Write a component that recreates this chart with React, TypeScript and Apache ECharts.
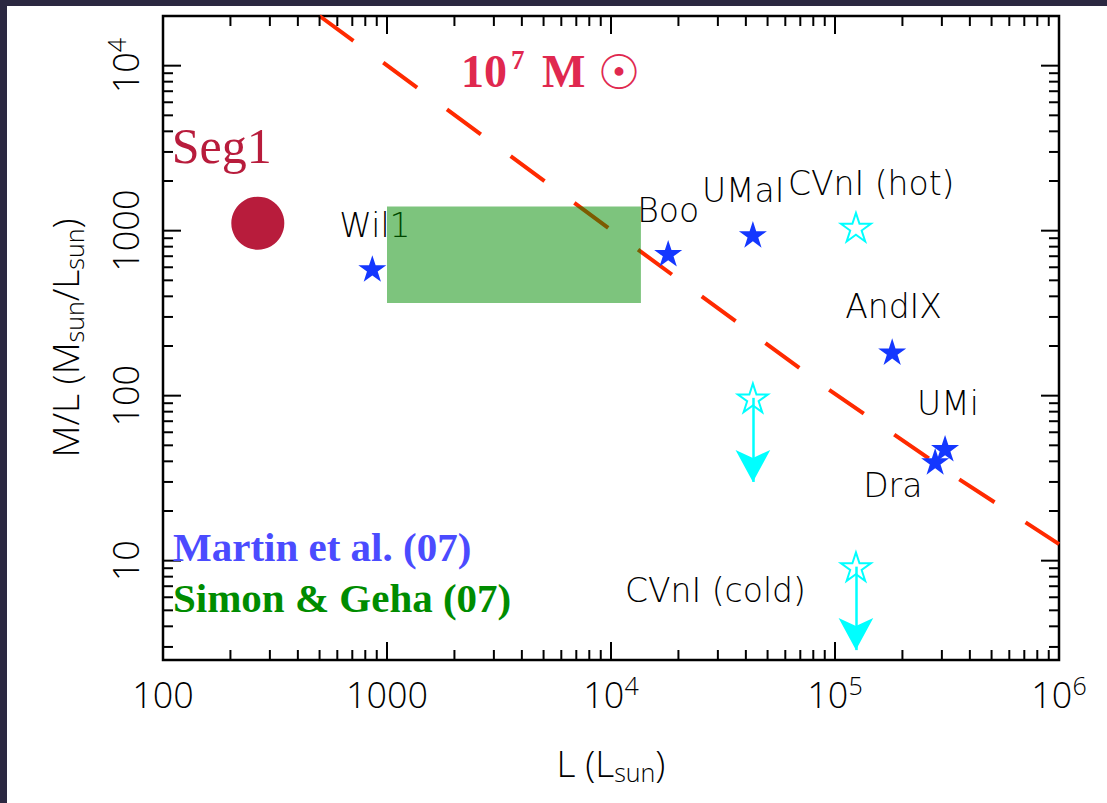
import React, { useEffect, useRef } from 'react';
import * as echarts from 'echarts';

// ---------------- data ----------------
const galaxyNames = ['Wil1', 'Boo', 'UMaI', 'AndIX', 'UMi', 'Dra'];
const galaxyL = [860, 18000, 43000, 180000, 310000, 280000];
const galaxyML = [590, 730, 950, 185, 48, 40];

const limitNames = ['CVnI (hot)', '', 'CVnI (cold)'];
const limitL = [124000, 43000, 124000];
const limitML = [1050, 97, 9.2];
const limitArrowEndML = [0, 30, 2.87]; // 0 = no arrow

const seg1L = [265];
const seg1ML = [1110];

const boxL = [1000, 13600];
const boxML = [365, 1400];

// 10^7 Msun line
const massLineL = [500, 92000, 351000, 1000000];
const massLineML = [20000, 111, 31.7, 12.6];

const xMajorTicks = [100, 1000, 10000, 100000, 1000000];
const xMinorTicks = [
  200, 300, 400, 500, 600, 700, 800, 900,
  2000, 3000, 4000, 5000, 6000, 7000, 8000, 9000,
  20000, 30000, 40000, 50000, 60000, 70000, 80000, 90000,
  200000, 300000, 400000, 500000, 600000, 700000, 800000, 900000,
];
const yMajorTicks = [10, 100, 1000, 10000];
const yMinorTicks = [
  3, 4, 5, 6, 7, 8, 9,
  20, 30, 40, 50, 60, 70, 80, 90,
  200, 300, 400, 500, 600, 700, 800, 900,
  2000, 3000, 4000, 5000, 6000, 7000, 8000, 9000,
];

const X_MIN = 100;
const X_MAX = 1000000;
const Y_MIN = 2.5;
const Y_MAX = 20000;

// ---------------- styling ----------------
const labelOffsets: Record<string, number[]> = {
  'Wil1': [-33, -43],
  'Boo': [-31, -43],
  'UMaI': [-51, -44],
  'AndIX': [-47, -45],
  'UMi': [-28, -45],
  'Dra': [-72, 24],
  'CVnI (hot)': [-68, -44],
  'CVnI (cold)': [-231, 24],
};

const STAR =
  'path://M50,0L61.23,34.55L97.55,34.55L68.17,55.9L79.39,90.45L50,69.1L20.61,90.45L31.83,55.9L2.45,34.55L38.77,34.55Z';

const SANS = '"Open Sans", "Liberation Sans", sans-serif';
const LABEL_FONT = '"DejaVu Sans", sans-serif';
const SERIF = '"Liberation Serif", "DejaVu Serif", serif';

function isPow10(v: number) {
  const l = Math.log10(v);
  return Math.abs(l - Math.round(l)) < 1e-6;
}

function tickLabel(v: number) {
  if (!isPow10(v)) return '';
  const e = Math.round(Math.log10(v));
  if (e <= 3) return `{b|${Math.round(Math.pow(10, e))}}`;
  return `{b|10}{s|${e}}`;
}

const tickRich = {
  b: { fontSize: 36, lineHeight: 44, fontFamily: SANS, fontWeight: 300, color: '#000' },
  s: { fontSize: 25, lineHeight: 17, verticalAlign: 'top', fontFamily: SANS, fontWeight: 300, color: '#000' },
};

const titleRich = {
  t: { fontSize: 37, lineHeight: 44, fontFamily: SANS, fontWeight: 300, color: '#000' },
  s: { fontSize: 25, lineHeight: 4, verticalAlign: 'bottom', fontFamily: SANS, fontWeight: 300, color: '#000' },
};

function tickSeries(values: number[], dir: 'x' | 'y', len: number) {
  return {
    type: 'custom',
    z: 4,
    silent: true,
    clip: false,
    data: values.map((v) => (dir === 'x' ? [v, Y_MIN] : [X_MIN, v])),
    renderItem: (_p: any, api: any) => {
      const st = { stroke: '#000', lineWidth: 2 };
      if (dir === 'x') {
        const v = api.value(0);
        const b = api.coord([v, Y_MIN]);
        const t = api.coord([v, Y_MAX]);
        return {
          type: 'group',
          children: [
            { type: 'line', shape: { x1: b[0], y1: b[1], x2: b[0], y2: b[1] - len }, style: st },
            { type: 'line', shape: { x1: t[0], y1: t[1], x2: t[0], y2: t[1] + len }, style: st },
          ],
        };
      }
      const v = api.value(1);
      const l = api.coord([X_MIN, v]);
      const r = api.coord([X_MAX, v]);
      return {
        type: 'group',
        children: [
          { type: 'line', shape: { x1: l[0], y1: l[1], x2: l[0] + len, y2: l[1] }, style: st },
          { type: 'line', shape: { x1: r[0], y1: r[1], x2: r[0] - len, y2: r[1] }, style: st },
        ],
      };
    },
  };
}

export default function App() {
  const ref = useRef<HTMLDivElement>(null);

  useEffect(() => {
    if (!ref.current) return;
    const chart = echarts.init(ref.current, undefined, { renderer: 'svg' });

    const galaxyData = galaxyNames.map((n, i) => ({
      name: n,
      value: [galaxyL[i], galaxyML[i]],
      label: { offset: labelOffsets[n] },
    }));
    const limitData = limitNames.map((n, i) => ({
      name: n,
      value: [limitL[i], limitML[i]],
      label: { show: n !== '', offset: labelOffsets[n] || [0, 0] },
    }));
    const arrowData = limitNames
      .map((_n, i) => i)
      .filter((i) => limitArrowEndML[i] > 0)
      .map((i) => [{ coord: [limitL[i], limitML[i]] }, { coord: [limitL[i], limitArrowEndML[i]] }]);

    const labelStyle = {
      show: true,
      position: 'inside',
      formatter: '{b}',
      align: 'left',
      verticalAlign: 'middle',
      color: '#000',
      fontSize: 33,
      fontWeight: 200,
      fontFamily: LABEL_FONT,
    };

    const option: any = {
      animation: false,
      backgroundColor: '#ffffff',
      grid: {
        left: 163,
        top: 16,
        width: 896,
        height: 644,
        show: true,
        borderColor: '#000',
        borderWidth: 2.5,
        backgroundColor: 'transparent',
      },
      xAxis: {
        type: 'log',
        logBase: 10,
        min: X_MIN,
        max: X_MAX,
        axisLine: { show: false },
        axisTick: { show: false },
        splitLine: { show: false },
        axisLabel: { margin: 12, formatter: tickLabel, rich: tickRich, color: '#000' },
        name: '{t|L (L}{s|sun}{t|)}',
        nameLocation: 'middle',
        nameGap: 80,
        nameTextStyle: { rich: titleRich },
      },
      yAxis: {
        type: 'log',
        logBase: 10,
        min: Y_MIN,
        max: Y_MAX,
        axisLine: { show: false },
        axisTick: { show: false },
        splitLine: { show: false },
        axisLabel: { rotate: 90, margin: 16, formatter: tickLabel, rich: tickRich, color: '#000' },
        name: '{t|M/L (M}{s|sun}{t|/L}{s|sun}{t|)}',
        nameLocation: 'middle',
        nameGap: 77,
        nameTextStyle: { rich: titleRich },
      },
      graphic: [
        { type: 'rect', shape: { x: 0, y: 0, width: 1107, height: 6 }, style: { fill: '#2b2841' }, z: 100 },
        { type: 'rect', shape: { x: 0, y: 0, width: 7, height: 803 }, style: { fill: '#2b2841' }, z: 100 },
        {
          type: 'text',
          z: 50,
          style: {
            text: '{n|10}{p|7}{n| M}{o|☉}',
            x: 461,
            y: 71,
            align: 'left',
            verticalAlign: 'middle',
            rich: {
              n: { fontFamily: SERIF, fontWeight: 'bold', fontSize: 46, lineHeight: 50, fill: '#e0284f' },
              p: {
                fontFamily: SERIF,
                fontWeight: 'bold',
                fontSize: 27,
                lineHeight: 40,
                verticalAlign: 'top',
                padding: [0, 6, 0, 4],
                fill: '#e0284f',
              },
              o: {
                fontFamily: '"DejaVu Sans", sans-serif',
                fontSize: 48,
                lineHeight: 30,
                verticalAlign: 'bottom',
                padding: [0, 0, 0, 12],
                fill: '#e0284f',
              },
            },
          },
        },
        {
          type: 'text',
          z: 50,
          style: {
            text: 'Martin et al. (07)',
            x: 173,
            y: 547,
            align: 'left',
            verticalAlign: 'middle',
            fontFamily: SERIF,
            fontWeight: 'bold',
            fontSize: 41,
            fill: '#4b4bff',
          },
        },
        {
          type: 'text',
          z: 50,
          style: {
            text: 'Simon & Geha (07)',
            x: 173,
            y: 598,
            align: 'left',
            verticalAlign: 'middle',
            fontFamily: SERIF,
            fontWeight: 'bold',
            fontSize: 41,
            fill: '#008c00',
          },
        },
      ],
      series: [
        tickSeries(xMajorTicks, 'x', 18),
        tickSeries(xMinorTicks, 'x', 10),
        tickSeries(yMajorTicks, 'y', 18),
        tickSeries(yMinorTicks, 'y', 10),
        {
          name: '10^7 Msun',
          type: 'line',
          z: 2,
          silent: true,
          showSymbol: false,
          symbol: 'none',
          data: massLineL.map((L, i) => [L, massLineML[i]]),
          lineStyle: { color: '#ff2a00', width: 4, type: [42, 37] },
        },
        {
          name: 'Seg1',
          type: 'scatter',
          z: 3,
          symbol: 'circle',
          symbolSize: 53,
          itemStyle: { color: '#b81c3c', opacity: 1 },
          data: seg1L.map((L, i) => ({ name: 'Seg1', value: [L, seg1ML[i]] })),
          label: {
            show: true,
            position: 'inside',
            formatter: '{b}',
            align: 'left',
            verticalAlign: 'middle',
            offset: [-86, -77],
            color: '#b81c3c',
            fontFamily: SERIF,
            fontSize: 50,
          },
        },
        {
          name: 'Martin et al. (07)',
          type: 'scatter',
          z: 3,
          symbol: STAR,
          symbolKeepAspect: true,
          symbolSize: 28,
          itemStyle: { color: '#1437ff', opacity: 1 },
          data: galaxyData,
          label: labelStyle,
        },
        {
          name: 'limits',
          type: 'scatter',
          z: 3,
          symbol: STAR,
          symbolKeepAspect: true,
          symbolSize: 30,
          itemStyle: { color: 'rgba(0,0,0,0)', borderColor: '#00ffff', borderWidth: 2, opacity: 1 },
          data: limitData,
          label: labelStyle,
          markLine: {
            silent: true,
            symbol: ['none', 'arrow'],
            symbolSize: [26, 32],
            label: { show: false },
            lineStyle: { color: '#00ffff', width: 2.5, type: 'solid', opacity: 1 },
            itemStyle: { color: '#00ffff' },
            data: arrowData,
          },
        },
        {
          name: 'Simon & Geha (07)',
          type: 'custom',
          z: 6,
          silent: true,
          data: [[boxL[0], boxML[0], boxL[1], boxML[1]]],
          encode: { x: [0, 2], y: [1, 3] },
          renderItem: (_p: any, api: any) => {
            const a = api.coord([api.value(0), api.value(1)]);
            const b = api.coord([api.value(2), api.value(3)]);
            return {
              type: 'rect',
              shape: {
                x: Math.min(a[0], b[0]),
                y: Math.min(a[1], b[1]),
                width: Math.abs(b[0] - a[0]),
                height: Math.abs(b[1] - a[1]),
              },
              style: { fill: 'rgba(0,140,0,0.51)' },
            };
          },
        },
      ],
    };

    chart.setOption(option);
    return () => chart.dispose();
  }, []);

  return (
    <div
      ref={ref}
      style={{ position: 'absolute', left: 0, top: 0, width: 1107, height: 803 }}
    />
  );
}
